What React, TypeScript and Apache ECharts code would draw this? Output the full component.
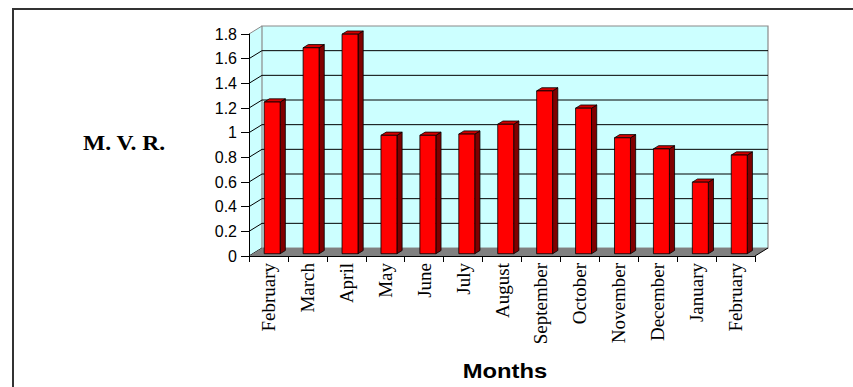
import React, { useEffect, useRef } from "react";
import * as echarts from "echarts";

// ---- data ----
const months = [
  "February", "March", "April", "May", "June", "July", "August",
  "September", "October", "November", "December", "January", "February",
];
const mvr = [1.23, 1.67, 1.78, 0.96, 0.96, 0.97, 1.05, 1.32, 1.18, 0.94, 0.85, 0.58, 0.8];
const yTickValues = [0, 0.2, 0.4, 0.6, 0.8, 1, 1.2, 1.4, 1.6, 1.8];
const yAxisTitle = "M. V. R.";
const xAxisTitle = "Months";

// ---- styles ----
const DX = 13; // 3-D depth offset
const DY = 8;
const BAR_F0 = 0.285; // bar front plane (fraction of depth)
const BAR_DEPTH = 0.4;
const BAR_W = 0.41;
const WALL = "#ccffff";
const FLOOR = "#808080";

export default function App() {
  const ref = useRef<HTMLDivElement>(null);
  useEffect(() => {
    if (!ref.current) return;
    const chart = echarts.init(ref.current, null, { renderer: "svg" });
    const yMax = yTickValues[yTickValues.length - 1];

    const wallsRender = (params: any, api: any) => {
      const cs = params.coordSys;
      const x0 = cs.x;
      const x1 = cs.x + cs.width;
      const yb = api.coord([0, 0])[1];
      const yt = api.coord([0, yMax])[1];
      const children: any[] = [];
      children.push({
        type: "polygon",
        shape: { points: [[x0, yb], [x0 + DX, yb - DY], [x0 + DX, yt - DY], [x0, yt]] },
        style: { fill: WALL, stroke: null },
      });
      children.push({
        type: "rect",
        shape: { x: x0 + DX, y: yt - DY, width: x1 - x0, height: yb - yt },
        style: { fill: WALL, stroke: "#8a8a8a", lineWidth: 1.2 },
      });
      yTickValues.forEach((v) => {
        const y = api.coord([0, v])[1];
        if (v > 0 && v < yMax) {
          children.push({
            type: "line",
            shape: { x1: x0 + DX, y1: y - DY, x2: x1 + DX, y2: y - DY },
            style: { stroke: "#000", lineWidth: 1 },
          });
        }
        children.push({
          type: "line",
          shape: { x1: x0, y1: y, x2: x0 + DX, y2: y - DY },
          style: { stroke: v === yMax ? "#8a8a8a" : "#000", lineWidth: 1 },
        });
      });
      children.push({
        type: "polygon",
        shape: { points: [[x0, yb], [x1, yb], [x1 + DX, yb - DY], [x0 + DX, yb - DY]] },
        style: { fill: FLOOR, stroke: null },
      });
      children.push({
        type: "line",
        shape: { x1: x1, y1: yb, x2: x1 + DX, y2: yb - DY },
        style: { stroke: "#000", lineWidth: 1 },
      });
      return { type: "group", children };
    };

    const barRender = (params: any, api: any) => {
      const i = api.value(0);
      const v = api.value(1);
      const base = api.coord([i, 0]);
      const top = api.coord([i, v]);
      const cw = api.size([1, 0])[0];
      const w = cw * BAR_W;
      const ox = DX * BAR_F0;
      const oy = DY * BAR_F0;
      const xl = base[0] + ox - w / 2;
      const xr = xl + w;
      const yb = base[1] - oy;
      const yt = top[1] - oy;
      const ddx = DX * BAR_DEPTH;
      const ddy = DY * BAR_DEPTH;
      const stroke = { stroke: "#000", lineWidth: 0.8 };
      return {
        type: "group",
        children: [
          {
            type: "polygon",
            shape: { points: [[xr, yb], [xr + ddx, yb - ddy], [xr + ddx, yt - ddy], [xr, yt]] },
            style: { fill: "#800000", ...stroke },
          },
          {
            type: "polygon",
            shape: { points: [[xl, yt], [xl + ddx, yt - ddy], [xr + ddx, yt - ddy], [xr, yt]] },
            style: { fill: "#d40000", ...stroke },
          },
          {
            type: "rect",
            shape: { x: xl, y: yt, width: w, height: yb - yt },
            style: { fill: "#ff0000", ...stroke },
          },
        ],
      };
    };

    chart.setOption({
      animation: false,
      backgroundColor: "#ffffff",
      grid: { left: 249, right: 98, top: 34, bottom: 131, containLabel: false },
      xAxis: {
        type: "category",
        data: months,
        boundaryGap: true,
        z: 5,
        axisLine: { show: true, lineStyle: { color: "#000", width: 1 } },
        axisTick: { show: true, length: 6, lineStyle: { color: "#000" }, interval: 0 },
        axisLabel: {
          interval: 0,
          rotate: 90,
          margin: 7,
          color: "#000",
          fontFamily: "Liberation Serif",
          fontSize: 19,
        },
        splitLine: { show: false },
      },
      yAxis: {
        type: "value",
        min: 0,
        max: yMax,
        interval: 0.2,
        z: 5,
        axisLine: { show: true, lineStyle: { color: "#000", width: 1 } },
        axisTick: { show: true, length: 8, lineStyle: { color: "#000" } },
        axisLabel: {
          margin: 12,
          color: "#000",
          fontFamily: "Liberation Sans",
          fontSize: 16,
          formatter: (val: number) => String(Math.round(val * 10) / 10),
        },
        splitLine: { show: false },
      },
      graphic: [
        {
          type: "rect",
          silent: true,
          shape: { x: 13, y: 9, width: 1200, height: 1000 },
          style: { fill: "none", stroke: "#333", lineWidth: 2 },
          z: 0,
        },
        {
          type: "text",
          x: 83,
          y: 143,
          scaleX: 1.12,
          style: {
            text: yAxisTitle,
            fontFamily: "Liberation Serif",
            fontWeight: "bold",
            fontSize: 21,
            fill: "#000",
            textAlign: "left",
            textVerticalAlign: "middle",
          },
        },
        {
          type: "text",
          x: 505,
          y: 371,
          scaleX: 1.22,
          style: {
            text: xAxisTitle,
            fontFamily: "Liberation Sans",
            fontWeight: "bold",
            fontSize: 19.5,
            fill: "#000",
            textAlign: "center",
            textVerticalAlign: "middle",
          },
        },
      ],
      series: [
        {
          type: "custom",
          name: "walls",
          z: 1,
          silent: true,
          clip: false,
          data: [[0, 0]],
          renderItem: wallsRender,
        },
        {
          type: "custom",
          name: yAxisTitle,
          z: 2,
          clip: false,
          data: mvr.map((v, i) => [i, v]),
          encode: { x: 0, y: 1 },
          renderItem: barRender,
        },
      ],
    });
    return () => chart.dispose();
  }, []);
  return (
    <div
      ref={ref}
      style={{ position: "fixed", left: 0, top: 0, width: 853, height: 387, background: "#fff" }}
    />
  );
}
